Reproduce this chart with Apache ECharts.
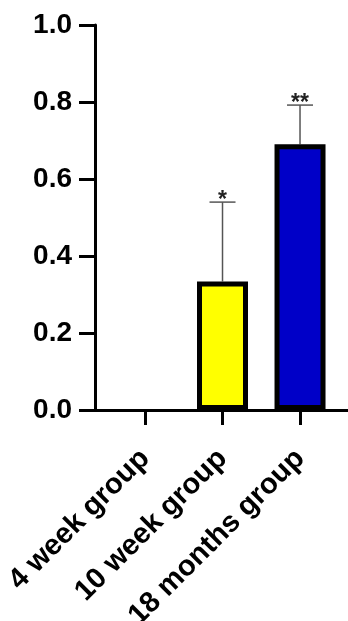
<!DOCTYPE html>
<html>
<head>
<meta charset="utf-8">
<script src="https://cdn.jsdelivr.net/npm/echarts@6/dist/echarts.min.js"></script>
<style>
html,body{margin:0;padding:0;background:#fff;}
#chart{width:348px;height:621px;}
</style>
</head>
<body>
<div id="chart"></div>
<script>
// ---- data ----
const categories = ['4 week group', '10 week group', '18 months group'];
const positions = [1, 2, 3];
const means = [0, 0.334, 0.69];
const errors = [0, 0.206, 0.102];
const stars = ['', '*', '**'];
const yTicks = [0, 0.2, 0.4, 0.6, 0.8, 1.0];
const barColors = ['#FFFFFF', '#FFFF00', '#0000C8'];

const FONT = '"Liberation Sans", Arial, sans-serif';

const barData = positions.map((p, i) => ({
  value: [p, means[i]],
  itemStyle: {
    color: barColors[i],
    borderColor: '#000',
    borderWidth: means[i] === 0 ? 0 : 5
  }
}));

const errData = positions.map((p, i) => [p, means[i], errors[i]]).filter((d, i) => errors[i] > 0);
const errStars = stars.filter((s, i) => errors[i] > 0);

const chart = echarts.init(document.getElementById('chart'), null, {renderer: 'canvas'});
chart.setOption({
  animation: false,
  backgroundColor: '#fff',
  grid: {left: 95, right: 0, top: 25, bottom: 211, containLabel: false, outerBoundsMode: 'none'},
  xAxis: {
    type: 'value',
    min: 0.355,
    max: 3.619,
    splitLine: {show: false},
    axisLine: {show: true, lineStyle: {color: '#000', width: 3}},
    axisTick: {show: true, customValues: positions, length: 15, lineStyle: {color: '#000', width: 3}},
    axisLabel: {
      customValues: positions,
      rotate: 45,
      margin: 44,
      fontSize: 29,
      fontWeight: 'bold',
      fontFamily: FONT,
      color: '#000',
      formatter: v => categories[positions.indexOf(Math.round(v))] || ''
    }
  },
  yAxis: {
    type: 'value',
    min: 0,
    max: 1,
    interval: 0.2,
    splitLine: {show: false},
    axisLine: {show: true, lineStyle: {color: '#000', width: 3}},
    axisTick: {show: true, length: 16, lineStyle: {color: '#000', width: 3}},
    axisLabel: {
      margin: 23,
      fontSize: 28,
      fontWeight: 'bold',
      fontFamily: FONT,
      color: '#000',
      formatter: v => (yTicks.some(t => Math.abs(t - v) < 1e-9) ? v.toFixed(1) : '')
    }
  },
  series: [
    {
      type: 'custom',
      z: 1,
      data: errData,
      renderItem: function (params, api) {
        const x = api.value(0), m = api.value(1), e = api.value(2);
        const p0 = api.coord([x, m]);
        const p1 = api.coord([x, m + e]);
        const half = 13;
        return {
          type: 'group',
          children: [
            {type: 'line', shape: {x1: p0[0], y1: p0[1], x2: p1[0], y2: p1[1]}, style: {stroke: '#555', lineWidth: 1.5}},
            {type: 'line', shape: {x1: p1[0] - half, y1: p1[1], x2: p1[0] + half, y2: p1[1]}, style: {stroke: '#555', lineWidth: 1.5}},
            {type: 'text', x: p1[0], y: p1[1] - 1, style: {
              text: errStars[params.dataIndex], fill: '#222', font: 'bold 23px ' + FONT,
              align: 'center', verticalAlign: 'middle'
            }}
          ]
        };
      }
    },
    {
      type: 'bar',
      z: 2,
      barWidth: 51,
      data: barData
    }
  ]
});
</script>
</body>
</html>
